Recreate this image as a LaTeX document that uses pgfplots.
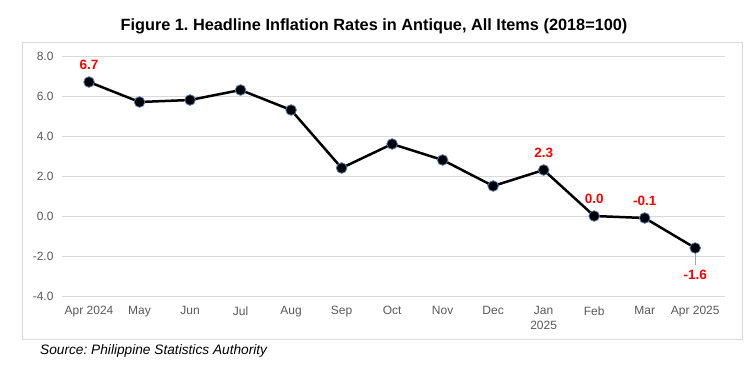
\documentclass[border=0pt]{standalone}
\usepackage{fontspec}
\setmainfont{Liberation Sans}
\usepackage{pgfplots}
\pgfplotsset{compat=1.18}
\definecolor{gridc}{HTML}{D9D9D9}
\definecolor{tickc}{HTML}{595959}
\definecolor{mkc}{HTML}{4A7EBB}
\definecolor{lblred}{HTML}{FF0000}
\frenchspacing
\begin{document}
\begin{tikzpicture}[x=1pt,y=1pt]
\useasboundingbox (0,0) rectangle (746,376);
\draw[gridc, line width=1pt] (22,37) rectangle (742,334);
\node[anchor=base, inner sep=0pt, font=\bfseries\fontsize{16.3}{19}\selectfont] at (374,345) {Figure 1. Headline Inflation Rates in Antique, All Items (2018=100)};
\node[anchor=base west, inner sep=0pt, font=\itshape\fontsize{13.7}{16}\selectfont] at (40,22) {Source: Philippine Statistics Authority};
\begin{axis}[at={(62pt,80pt)}, anchor=south west, scale only axis,
  width=663pt, height=240pt,
  xmin=-0.535, xmax=12.59, ymin=-4, ymax=8,
  ytick={-4,-2,...,8},
  xtick={0,...,12},
  xticklabels={Apr 2024,May,Jun,Jul,Aug,Sep,Oct,Nov,Dec,{Jan\\2025},Feb,Mar,Apr 2025},
  xticklabel style={align=center, font=\fontsize{12}{14.5}\selectfont, text=tickc, yshift=-7pt},
  yticklabel style={font=\fontsize{12}{14}\selectfont, text=tickc, xshift=-5pt,
    /pgf/number format/.cd, fixed, fixed zerofill, precision=1, assume math mode=true},
  axis line style={draw=none}, tick style={draw=none},
  ymajorgrids, grid style={gridc, line width=1pt},
  clip=false]
\addplot[black, line width=2.5pt, mark=*, mark size=5.3pt,
  mark options={fill=black, draw=mkc, line width=0.8pt}]
  coordinates {(0,6.7) (1,5.7) (2,5.8) (3,6.3) (4,5.3) (5,2.4) (6,3.6) (7,2.8) (8,1.5) (9,2.3) (10,0.0) (11,-0.1) (12,-1.6)};
\addplot[draw=none, mark=none, nodes near coords, point meta=explicit symbolic,
  nodes near coords style={text=lblred, font=\bfseries\fontsize{13.5}{15}\selectfont, anchor=base, yshift=12.5pt}]
  coordinates {(0,6.7)[6.7] (9,2.3)[2.3] (10,0.0)[0.0] (11,-0.1)[-0.1]};
\addplot[draw=none, mark=none, nodes near coords, point meta=explicit symbolic,
  nodes near coords style={text=lblred, font=\bfseries\fontsize{13.5}{15}\selectfont, anchor=base, yshift=-31pt}]
  coordinates {(12,-1.6)[-1.6]};
\draw[gray!70, line width=0.8pt] (axis cs:12,-1.85) -- (axis cs:12,-2.45);
\end{axis}
\end{tikzpicture}
\end{document}
